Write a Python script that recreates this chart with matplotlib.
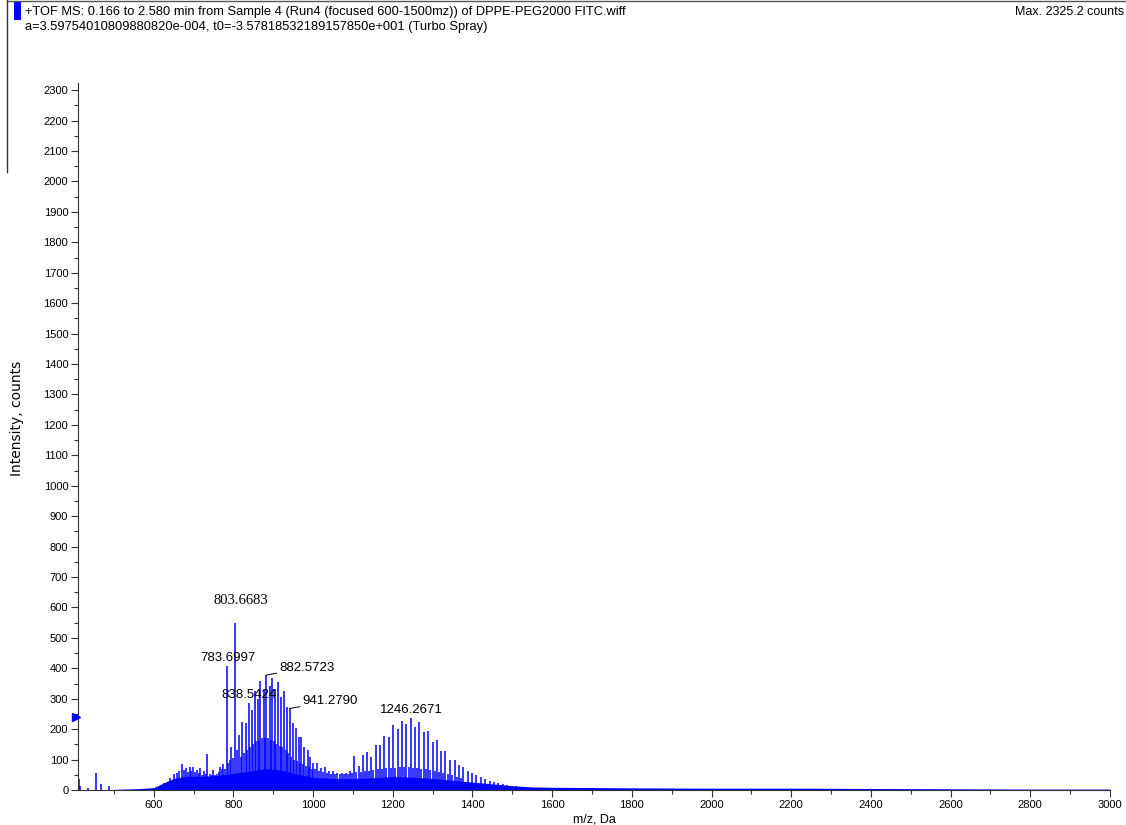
import matplotlib
matplotlib.use("Agg")
import matplotlib.pyplot as plt
from matplotlib.patches import Rectangle
from matplotlib.lines import Line2D
from matplotlib.ticker import MultipleLocator

# TOF MS spectrum of DPPE-PEG2000 FITC, 0.166 - 2.580 min
BLUE = "#0000FF"

# centroided peaks (m/z, counts)
peak_mz = [
    412, 415, 436, 456, 467, 489,
    616, 625, 633, 641, 650, 658, 664, 671, 676, 682, 686, 690, 694, 698,
    703, 708, 713, 717, 721, 725, 730, 735, 742, 746, 750, 754, 758, 763,
    767, 771, 775, 779, 783.6997, 787, 791, 795, 799, 803.6683, 808, 813.7,
    818, 822, 826, 830.5, 834, 838.5424, 842, 845.5, 850, 853.9, 857, 860.6,
    864, 867.3, 871, 875.6, 879, 882.5723, 886, 890.7, 894, 897.4, 901,
    904.1, 908, 912.4, 916, 919.1, 923, 927.5, 931, 934.2, 938, 941.2790,
    945, 949.2, 953, 955.9, 960, 964.3, 968, 970.9, 974, 977.7, 982, 986,
    989, 992.7, 997, 1001, 1005, 1009, 1015, 1020, 1025, 1030, 1036, 1041,
    1046, 1051, 1056, 1061, 1067, 1072, 1078, 1083, 1088, 1093, 1098,
    1103, 1108, 1114, 1119, 1125, 1130, 1135, 1140, 1146, 1151, 1157, 1162,
    1167, 1173, 1179, 1184, 1190, 1195, 1201, 1206, 1212, 1217, 1223, 1228,
    1234, 1240, 1246.2671, 1250, 1255, 1261, 1267, 1272, 1278, 1283, 1289,
    1294, 1300, 1305, 1311, 1316, 1321, 1327, 1332, 1338, 1344, 1349, 1355,
    1360, 1366, 1371, 1377, 1388, 1398, 1409, 1421, 1432, 1443, 1454, 1465,
    1476, 1487, 1498, 1509, 1520, 1531,
]
peak_int = [
    35, 13, 8, 55, 19, 14,
    11, 22, 27, 39, 53, 57, 62, 85, 65, 71, 60, 76, 62, 74,
    58, 66, 55, 71, 50, 64, 52, 118, 53, 48, 66, 50, 53, 60,
    76, 68, 85, 70, 407, 90, 100, 142, 105, 548, 130, 181,
    110, 224, 120, 220, 130, 285, 140, 263, 150, 326, 160, 300,
    165, 357, 170, 329, 170, 378, 170, 342, 165, 367, 160,
    331, 150, 356, 145, 307, 140, 326, 130, 274, 120, 268,
    110, 221, 100, 203, 95, 175, 90, 175, 85, 142, 80, 131,
    75, 110, 70, 90, 68, 88, 62, 71, 58, 75, 56, 64,
    54, 62, 52, 57, 52, 55, 53, 57, 54, 64, 56,
    112, 58, 79, 60, 115, 62, 125, 64, 110, 66, 148, 68,
    149, 70, 179, 71, 175, 72, 214, 73, 199, 74, 227, 74,
    217, 74, 238, 72, 208, 72, 222, 70, 190, 68, 195,
    66, 157, 62, 164, 58, 127, 55, 128, 51, 99, 48, 99,
    44, 82, 40, 75, 62, 57, 49, 42, 36, 31, 27, 23,
    20, 18, 14, 12, 10, 9,
]

# unresolved chemical background under the peaks
bg_mz = [410, 480, 500, 550, 580, 600, 620, 650, 680, 720, 760, 800, 840,
         880, 920, 960, 1000, 1050, 1100, 1150, 1200, 1250, 1300, 1350, 1400,
         1450, 1500, 1550, 1600, 1800, 2000, 2200, 2400, 2600, 2800, 3000]
bg_int = [0, 0, 2, 4, 6, 8, 20, 38, 45, 45, 48, 55, 62,
          70, 65, 52, 42, 38, 38, 40, 44, 42, 38, 32, 26,
          20, 14, 10, 9, 7, 6, 6, 5, 4, 3, 3]

# labelled peaks: m/z, counts, text offset (px), leader line, font family
labels = [
    (803.6683, 548, (6, 16), False, "Liberation Serif"),
    (783.6997, 407, (1, 2), False, "Liberation Sans"),
    (882.5723, 378, (13, 7), True, "Liberation Sans"),
    (838.5424, 285, (0, 2), False, "Liberation Sans"),
    (941.2790, 268, (13, 7), True, "Liberation Sans"),
    (1246.2671, 238, (0, 2), False, "Liberation Sans"),
]

plt.rcParams["font.family"] = ["Liberation Sans", "DejaVu Sans"]

fig = plt.figure(figsize=(11.26, 8.25), dpi=100)
W, H = 1126.0, 825.0
ax = fig.add_axes([78 / W, 35 / H, (1110 - 78) / W, (790 - 82.5) / H])

ax.fill_between(bg_mz, bg_int, color=BLUE, lw=0)
ax.vlines(peak_mz, 0, peak_int, color=BLUE, lw=1.1)

for mz, inten, off, leader, fam in labels:
    if leader:
        ax.annotate(f"{mz:.4f}", xy=(mz, inten), xytext=off,
                    textcoords="offset pixels", ha="left", va="center",
                    fontsize=9.5, family=fam,
                    arrowprops=dict(arrowstyle="-", color="black", lw=0.7,
                                    shrinkA=0, shrinkB=0))
    else:
        ax.annotate(f"{mz:.4f}", xy=(mz, inten), xytext=off,
                    textcoords="offset pixels", ha="center", va="bottom",
                    fontsize=10.5 if fam == "Liberation Serif" else 9.5,
                    family=fam)

# marker on the intensity axis
ax.plot([405], [240], marker=">", color=BLUE, ms=6, clip_on=False, zorder=5)

ax.set_xlim(410, 3000)
ax.set_ylim(0, 2325.2)
ax.xaxis.set_minor_locator(MultipleLocator(100))
ax.yaxis.set_major_locator(MultipleLocator(100))
ax.yaxis.set_minor_locator(MultipleLocator(50))
ax.set_xticks(range(600, 3001, 200))
ax.tick_params(which="major", length=5, width=0.8, labelsize=8, pad=2,
               color="#333333")
ax.tick_params(which="minor", length=3, width=0.8, color="#333333")
for s in ("top", "right"):
    ax.spines[s].set_visible(False)
for s in ("left", "bottom"):
    ax.spines[s].set_color("#333333")
    ax.spines[s].set_linewidth(0.8)

ax.set_xlabel("m/z, Da", fontsize=9, labelpad=3)
fig.text(17 / W, 1 - 418 / H, "Intensity, counts", rotation=90,
         ha="center", va="center", fontsize=10, family="DejaVu Sans")

# header block
fig.add_artist(Rectangle((14 / W, 1 - 20 / H), 7 / W, 18 / H,
                         transform=fig.transFigure, color=BLUE, lw=0))
fig.add_artist(Line2D([7 / W, 1], [1 - 1 / H, 1 - 1 / H],
                      transform=fig.transFigure, color="#555555", lw=1))
fig.add_artist(Line2D([7 / W, 7 / W], [1, 1 - 172 / H],
                      transform=fig.transFigure, color="#333333", lw=1))
fig.text(25 / W, 1 - 12 / H,
         "+TOF MS: 0.166 to 2.580 min from Sample 4 (Run4 (focused 600-1500mz)) of DPPE-PEG2000 FITC.wiff",
         fontsize=9.3, va="center", ha="left")
fig.text(25 / W, 1 - 27 / H,
         "a=3.59754010809880820e-004, t0=-3.57818532189157850e+001 (Turbo Spray)",
         fontsize=9.3, va="center", ha="left")
fig.text(1124 / W, 1 - 12 / H, "Max. 2325.2 counts", fontsize=9,
         va="center", ha="right")

fig.savefig("out.png", dpi=100)
